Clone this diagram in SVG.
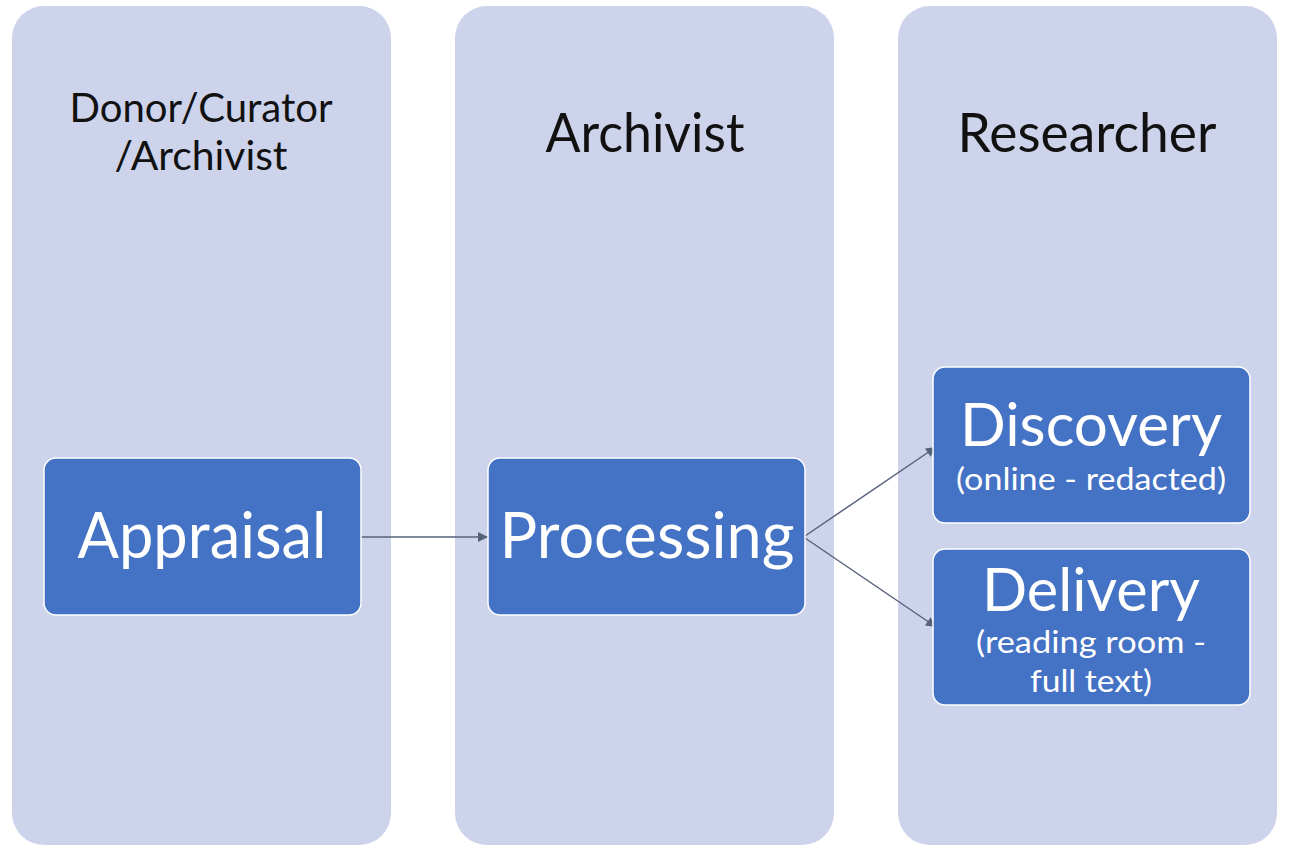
<svg xmlns="http://www.w3.org/2000/svg" width="1296" height="846" viewBox="0 0 1296 846">
<defs>
<style>
.lane{fill:#CDD3EA;}
.box{fill:#4472C4;stroke:#FFFFFF;stroke-width:1.5;}
.head{font-family:Lato,"Open Sans","Liberation Sans",sans-serif;fill:#111111;text-anchor:middle;}
.lbl{font-family:Lato,"Open Sans","Liberation Sans",sans-serif;fill:#FFFFFF;text-anchor:middle;}
.edge{stroke:#56627A;stroke-width:1.5;fill:none;marker-end:url(#arr);}
</style>
<marker id="arr" viewBox="0 0 10 10" refX="10" refY="5" markerWidth="11" markerHeight="10" markerUnits="userSpaceOnUse" orient="auto">
<path d="M0,0 L10,5 L0,10 z" fill="#56627A"/>
</marker>
</defs>
<rect width="1296" height="846" fill="#FFFFFF"/>
<g id="lane-donor">
<rect class="lane" x="12" y="6" width="379" height="839" rx="32"/>
<text class="head" font-size="40" x="201" y="122" textLength="263" lengthAdjust="spacingAndGlyphs">Donor/Curator</text>
<text class="head" font-size="40" x="201" y="170" textLength="173" lengthAdjust="spacingAndGlyphs">/Archivist</text>
</g>
<g id="lane-archivist">
<rect class="lane" x="455" y="6" width="379" height="839" rx="32"/>
<text class="head" font-size="54" x="645" y="152" textLength="199" lengthAdjust="spacingAndGlyphs">Archivist</text>
</g>
<g id="lane-researcher">
<rect class="lane" x="898" y="6" width="379" height="839" rx="32"/>
<text class="head" font-size="54" x="1087" y="152" textLength="259" lengthAdjust="spacingAndGlyphs">Researcher</text>
</g>
<g id="connectors">
<path class="edge" d="M361,537 L488,537"/>
<path class="edge" d="M805,536 L936,447"/>
<path class="edge" d="M805,538 L936,627"/>
</g>
<g id="appraisal">
<rect class="box" x="44" y="458" width="317" height="157" rx="12"/>
<text class="lbl" font-size="64" x="202" y="558" textLength="249" lengthAdjust="spacingAndGlyphs">Appraisal</text>
</g>
<g id="processing">
<rect class="box" x="488" y="458" width="317" height="157" rx="12"/>
<text class="lbl" font-size="64" x="647" y="558" textLength="295" lengthAdjust="spacingAndGlyphs">Processing</text>
</g>
<g id="discovery">
<rect class="box" x="933" y="367" width="317" height="156" rx="12"/>
<text class="lbl" font-size="60" x="1091" y="446" textLength="262" lengthAdjust="spacingAndGlyphs">Discovery</text>
<text class="lbl" font-size="30" x="1091" y="490" textLength="270" lengthAdjust="spacingAndGlyphs">(online - redacted)</text>
</g>
<g id="delivery">
<rect class="box" x="933" y="549" width="317" height="156" rx="12"/>
<text class="lbl" font-size="60" x="1091" y="611" textLength="218" lengthAdjust="spacingAndGlyphs">Delivery</text>
<text class="lbl" font-size="30" x="1091" y="653" textLength="230" lengthAdjust="spacingAndGlyphs">(reading room -</text>
<text class="lbl" font-size="30" x="1091" y="692" textLength="122" lengthAdjust="spacingAndGlyphs">full text)</text>
</g>
</svg>
